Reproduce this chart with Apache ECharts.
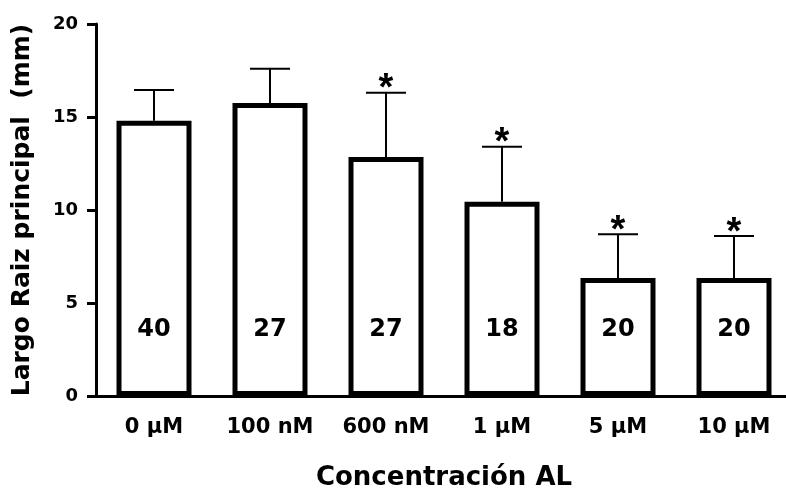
<!DOCTYPE html>
<html>
<head>
<meta charset="utf-8">
<script src="https://cdn.jsdelivr.net/npm/echarts@6/dist/echarts.min.js"></script>
<style>
    html,body{margin:0;padding:0;background:#fff;}
    #chart{width:786px;height:490px;}
</style>
</head>
<body>
<div id="chart"></div>
<script>
// 数据
var categories = ['0 \u03bcM', '100 nM', '600 nM', '1 \u03bcM', '5 \u03bcM', '10 \u03bcM'];
var means = [14.8, 15.75, 12.85, 10.45, 6.35, 6.35];
var errors = [1.65, 1.85, 3.45, 2.95, 2.35, 2.25];
var counts = [40, 27, 27, 18, 20, 20];
var significant = [false, false, true, true, true, true];
var yTicks = [0, 5, 10, 15, 20];

var font = 'Liberation Sans, Arial, sans-serif';
var wide = 'DejaVu Sans, sans-serif';

// 误差线数据
var errData = [];
for (var i = 0; i < means.length; i++) {
    errData.push([i, means[i], means[i] + errors[i], significant[i] ? 1 : 0]);
}

function renderError(params, api) {
    var base = api.coord([api.value(0), api.value(1)]);
    var top = api.coord([api.value(0), api.value(2)]);
    var half = 20;
    var children = [
        {type: 'line', shape: {x1: top[0], y1: base[1], x2: top[0], y2: top[1]}, style: {stroke: '#000', lineWidth: 2}},
        {type: 'line', shape: {x1: top[0] - half, y1: top[1], x2: top[0] + half, y2: top[1]}, style: {stroke: '#000', lineWidth: 2}}
    ];
    if (api.value(3) == 1) {
        children.push({
            type: 'text',
            style: {x: top[0], y: top[1] - 3, text: '*', fill: '#000', align: 'center', verticalAlign: 'middle',
                font: 'bold 38px ' + font}
        });
    }
    return {type: 'group', children: children};
}

var chart = echarts.init(document.getElementById('chart'));
var option = {
    backgroundColor: '#fff',
    animation: false,
    grid: {left: 96, top: 24, width: 696, height: 372, outerBoundsMode: 'none'},
    xAxis: {
        type: 'category',
        data: categories,
        name: 'Concentraci\u00f3n AL',
        nameLocation: 'middle',
        nameGap: 69,
        nameTextStyle: {color: '#000', fontFamily: wide, fontWeight: 'bold', fontSize: 26},
        axisLine: {lineStyle: {color: '#000', width: 3}},
        axisTick: {alignWithLabel: true, length: 9, lineStyle: {color: '#000', width: 2}},
        axisLabel: {margin: 21, color: '#000', fontFamily: wide, fontWeight: 'bold', fontSize: 21}
    },
    yAxis: {
        type: 'value',
        min: 0, max: 20, interval: 5,
        name: 'Largo Raiz principal  (mm)',
        nameLocation: 'middle',
        nameGap: 61,
        nameTextStyle: {color: '#000', fontFamily: wide, fontWeight: 'bold', fontSize: 25},
        axisLine: {show: true, lineStyle: {color: '#000', width: 3}},
        axisTick: {show: true, length: 9, lineStyle: {color: '#000', width: 3}},
        axisLabel: {margin: 18, color: '#000', fontFamily: wide, fontWeight: 'bold', fontSize: 18},
        splitLine: {show: false}
    },
    series: [
        {
            type: 'bar',
            data: means,
            barWidth: 75,
            itemStyle: {color: '#fff', borderColor: '#000', borderWidth: 5},
            label: {
                show: true, position: 'insideBottom', distance: 54,
                formatter: function (p) { return String(counts[p.dataIndex]); },
                color: '#000', fontFamily: wide, fontWeight: 'bold', fontSize: 24
            },
            z: 2
        },
        {
            type: 'custom',
            data: errData,
            renderItem: renderError,
            z: 3
        }
    ]
};
chart.setOption(option);
</script>
</body>
</html>
